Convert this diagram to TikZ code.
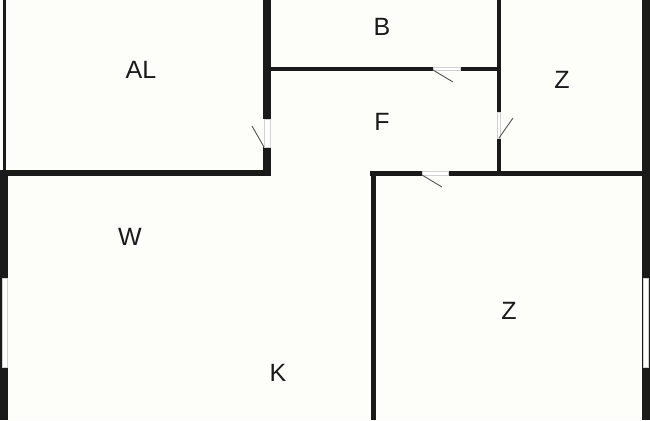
\documentclass[tikz,border=0pt]{standalone}
\usepackage{fontspec}
\setmainfont{Liberation Sans}
\usetikzlibrary{positioning}
\definecolor{wallcol}{RGB}{26,26,26}
\definecolor{paper}{RGB}{253,253,249}

\begin{document}
\begin{tikzpicture}[x=1pt, y=-1pt, node distance=95pt,
        wall/.style={fill=wallcol},
        opening/.style={fill=white, draw=gray!35, line width=0.4pt},
        leaf/.style={draw=wallcol!75, line width=0.9pt},
        room/.style={font=\fontsize{25}{30}\selectfont, text=wallcol}]
        \fill[paper] (0,0) rectangle (650,420);
        \useasboundingbox (0,0) rectangle (650,420);

        % walls
        \fill[wall] (3,0) rectangle (5.5,170);
        \fill[wall] (0,170) rectangle (271,176);
        \fill[wall] (263,0) rectangle (271,119);
        \fill[wall] (263,147) rectangle (271,176);
        \fill[wall] (271,67) rectangle (433,70.5);
        \fill[wall] (460,67) rectangle (497,70.5);
        \fill[wall] (497,0) rectangle (501,112);
        \fill[wall] (497,138) rectangle (501,175);
        \fill[wall] (370,171) rectangle (422,175.5);
        \fill[wall] (448,171) rectangle (642,175.5);
        \fill[wall] (371,171) rectangle (375.5,420);
        \fill[wall] (0,170) rectangle (8,420);
        \fill[wall] (642,0) rectangle (650,420);

        % doors and windows
        \draw[opening] (264,119) rectangle (270,147);
        \draw[leaf] (252,126) -- (264,147);
        \draw[opening] (433,67.5) rectangle (460,70);
        \draw[leaf] (433,70) -- (453,82);
        \draw[opening] (497.5,112) rectangle (500.5,138);
        \draw[leaf] (513,118) -- (499,138);
        \draw[opening] (422,171.5) rectangle (448,175);
        \draw[leaf] (422,175) -- (442,187);
        \draw[opening] (2,278) rectangle (7,367);
        \draw[opening] (643,278) rectangle (648,367);

        % rooms
        \node[room] (al) at (141,70) {AL};
        \node[room] (b) at (382,27) {B};
        \node[room, below of=b] (f) {F};
        \node[room] (z1) at (562,80) {Z};
        \node[room] (w) at (130,237) {W};
        \node[room] (z2) at (509,311) {Z};
        \node[room] (k) at (278,373) {K};
    \end{tikzpicture}
\end{document}
